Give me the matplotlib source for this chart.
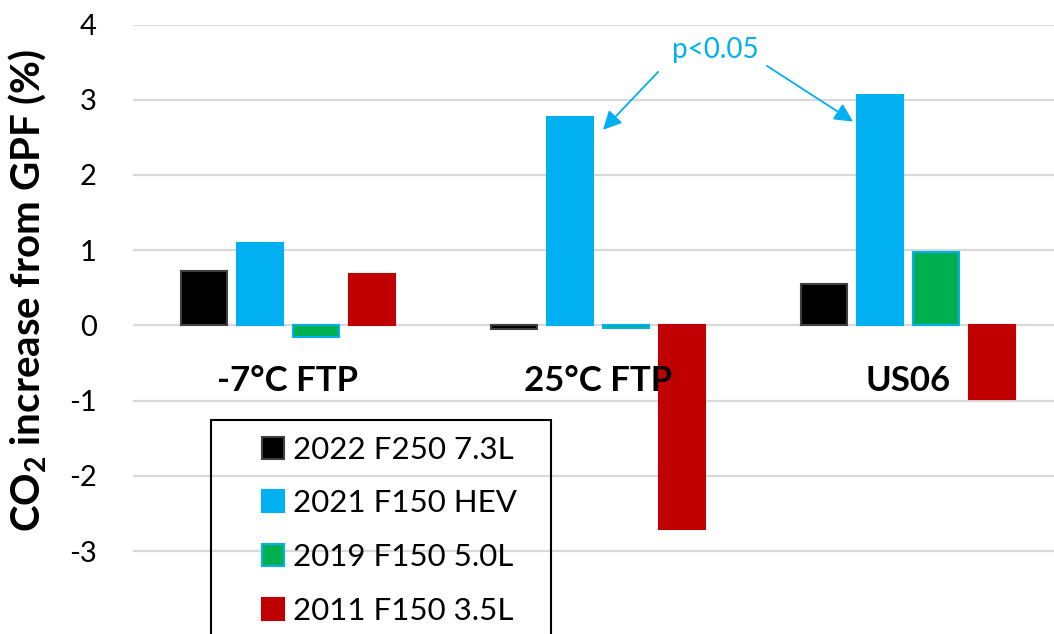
import numpy as np
import matplotlib.pyplot as plt
from matplotlib.patches import Rectangle

plt.rcParams['font.family'] = ['Lato', 'DejaVu Sans']
plt.rcParams['mathtext.fontset'] = 'custom'
plt.rcParams['mathtext.rm'] = 'Lato'
plt.rcParams['mathtext.bf'] = 'Lato:bold'

# data
cycles = ['-7°C FTP', '25°C FTP', 'US06']
vehicles = ['2022 F250 7.3L', '2021 F150 HEV', '2019 F150 5.0L', '2011 F150 3.5L']
f250_73 = [0.72, -0.05, 0.55]
f150_hev = [1.10, 2.77, 3.06]
f150_50 = [-0.15, -0.03, 0.98]
f150_35 = [0.69, -2.71, -0.98]
series = [f250_73, f150_hev, f150_50, f150_35]

fills = ['#000000', '#00B0F0', '#00B050', '#C00000']
edges = ['#404040', '#00B0F0', '#00B0F0', '#C00000']
offsets = [-0.271, -0.090, 0.090, 0.271]
width = 0.148

fig = plt.figure(figsize=(10.54, 6.34), dpi=100)
ax = fig.add_axes([133 / 1054, 0.0, 1 - 133 / 1054, 1 - 24.5 / 634])

x = np.arange(len(cycles))
for vals, name, fc, ec, off in zip(series, vehicles, fills, edges, offsets):
    ax.bar(x + off, vals, width, color=fc, edgecolor=ec, linewidth=1.5, label=name)

ax.set_xlim(-0.5, 2.471)
ax.set_ylim(-4.1, 4)
ax.set_yticks(range(-3, 5))
ax.set_yticklabels([str(v) for v in range(-3, 5)], fontsize=21)
ax.set_xticks([])
ax.tick_params(axis='y', length=0, pad=26)
ax.grid(axis='y', color='#D9D9D9', linewidth=1.6)
ax.set_axisbelow(True)
for s in ax.spines.values():
    s.set_visible(False)

# category labels sit inside the plot, below zero
for xi, name in zip(x, cycles):
    ax.text(xi, -0.74, name, ha='center', va='center', fontsize=25,
            fontweight='bold', zorder=5)

fig.text(28 / 1054, 1 - 290 / 634, r'CO$_{\mathbf{2}}$ increase from GPF (%)',
         rotation=90, ha='center', va='center', fontsize=29, fontweight='bold')

# significance annotation
ax.text(1.377, 3.665, 'p<0.05', ha='center', va='center', fontsize=20, color='#00B0F0')
arrow = dict(arrowstyle='-|>', color='#00B0F0', lw=1.3, mutation_scale=28,
             shrinkA=0, shrinkB=0)
ax.annotate('', xy=(1.016, 2.60), xytext=(1.194, 3.37), arrowprops=arrow)
ax.annotate('', xy=(1.823, 2.71), xytext=(1.545, 3.45), arrowprops=arrow)

# legend with a frame drawn separately
fig.patches.append(Rectangle((211 / 1054, -0.05), 340 / 1054, 0.05 + 214 / 634,
                             transform=fig.transFigure, fill=False,
                             edgecolor='black', linewidth=1.5))
ax.legend(loc='upper left', bbox_to_anchor=(246 / 1054, 1 - 420 / 634),
          bbox_transform=fig.transFigure, frameon=False, fontsize=22.5,
          handlelength=0.7, handleheight=0.7, handletextpad=0.3,
          labelspacing=0.82, borderpad=0)

fig.savefig('out.png', dpi=100)
